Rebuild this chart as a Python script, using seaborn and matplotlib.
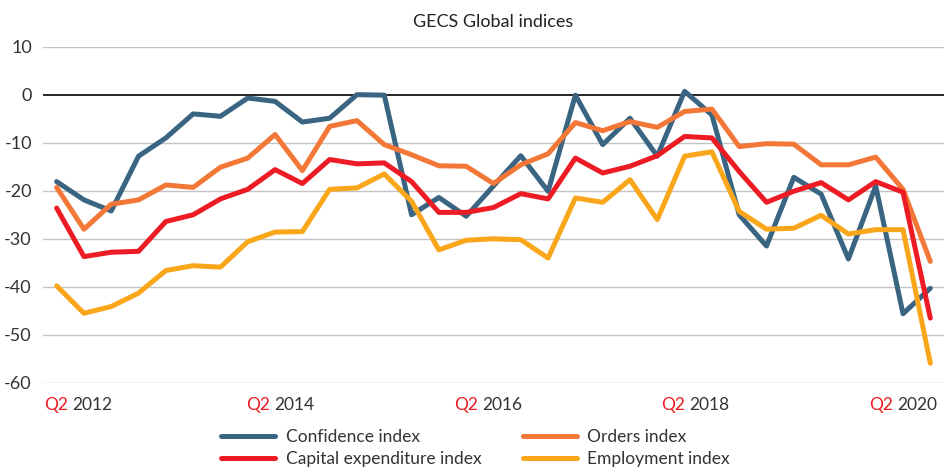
import matplotlib
matplotlib.use('Agg')
import pandas as pd
import seaborn as sns
import matplotlib.pyplot as plt
import matplotlib.transforms as mtransforms

# quarterly readings, Q2 2012 .. Q2 2020 (33 quarters)
confidence = [-18.1, -21.9, -24.2, -12.8, -9.0, -4.0, -4.5, -0.7, -1.4, -5.7, -4.9, 0.0,
              -0.1, -25.0, -21.4, -25.3, -19.0, -12.7, -20.1, -0.1, -10.4, -4.9, -12.8, 0.7,
              -4.2, -25.0, -31.5, -17.2, -20.7, -34.2, -19.0, -45.6, -40.3]
orders = [-19.3, -28.0, -22.8, -21.9, -18.8, -19.3, -15.1, -13.2, -8.3, -15.8, -6.6, -5.4,
          -10.4, -12.5, -14.8, -14.9, -18.5, -14.6, -12.3, -5.8, -7.5, -5.6, -6.8, -3.5,
          -3.0, -10.8, -10.2, -10.3, -14.6, -14.6, -13.0, -19.7, -34.7]
capex = [-23.6, -33.7, -32.8, -32.6, -26.4, -25.0, -21.7, -19.7, -15.6, -18.5, -13.5, -14.4,
         -14.2, -18.1, -24.5, -24.5, -23.5, -20.6, -21.7, -13.2, -16.3, -14.9, -12.7, -8.7,
         -9.0, -16.0, -22.4, -20.1, -18.3, -21.9, -18.1, -20.3, -46.5]
employment = [-39.8, -45.5, -44.1, -41.3, -36.6, -35.6, -35.9, -30.6, -28.6, -28.5, -19.7, -19.4,
              -16.5, -22.2, -32.3, -30.3, -30.0, -30.2, -34.0, -21.5, -22.4, -17.7, -26.0, -12.8,
              -11.9, -24.3, -28.0, -27.8, -25.1, -29.0, -28.1, -28.1, -55.9]

series_names = ['Confidence index', 'Orders index', 'Capital expenditure index', 'Employment index']
colors = ['#3a6582', '#f37736', '#ed1c24', '#faa61a']
tick_years = ['2012', '2014', '2016', '2018', '2020']
# where the quarter labels sit along the axis (Excel spreads them a bit unevenly)
label_pos = [0.5, 7.9, 15.5, 23.1, 30.7]

wide = pd.DataFrame({'t': range(len(confidence)),
                     series_names[0]: confidence,
                     series_names[1]: orders,
                     series_names[2]: capex,
                     series_names[3]: employment})
df = wide.melt(id_vars='t', var_name='series', value_name='value')

sns.set_style('white')
plt.rcParams['font.family'] = ['Lato', 'DejaVu Sans']
plt.rcParams['axes.unicode_minus'] = False

fig = plt.figure(figsize=(9.47, 4.71), dpi=100)
ax = fig.add_axes([0.0454, 0.187, 0.9514, 0.714])

for y in range(-60, 11, 10):
    ax.axhline(y, color='black' if y == 0 else '#c4c4c4', lw=1.2 if y == 0 else 1.0, zorder=1)

sns.lineplot(data=df, x='t', y='value', hue='series', hue_order=series_names,
             palette=colors, linewidth=3.6, ax=ax, zorder=3, legend=True)

ax.set_xlim(-0.5, 32.5)
ax.set_ylim(-60, 10)
ax.set_yticks(range(-60, 11, 10))
ax.tick_params(axis='y', labelsize=13, colors='#333333', length=0, pad=8)
ax.set_xticks([])
ax.set_xlabel('')
ax.set_ylabel('')
for s in ax.spines.values():
    s.set_visible(False)

# two-coloured quarter labels under the axis
trans = mtransforms.blended_transform_factory(ax.transData, ax.transAxes)
for p, yr in zip(label_pos, tick_years):
    ax.annotate('Q2', xy=(p, 0), xycoords=trans, xytext=(-1.5, -10), textcoords='offset points',
                ha='right', va='top', color='#ed1c24', fontsize=12.5)
    ax.annotate(yr, xy=(p, 0), xycoords=trans, xytext=(1.5, -10), textcoords='offset points',
                ha='left', va='top', color='#333333', fontsize=12.5)

ax.set_title('GECS Global indices', fontsize=13, color='#222222', pad=14)

handles, labels = ax.get_legend_handles_labels()
order = [0, 2, 1, 3]
ax.legend([handles[k] for k in order], [labels[k] for k in order], ncol=2,
          loc='upper center', bbox_to_anchor=(0.48, -0.09), frameon=False,
          fontsize=12.5, handlelength=3.1, columnspacing=2.4, labelspacing=0.35,
          handletextpad=0.6, labelcolor='#333333')

plt.savefig('out.png', dpi=100)
